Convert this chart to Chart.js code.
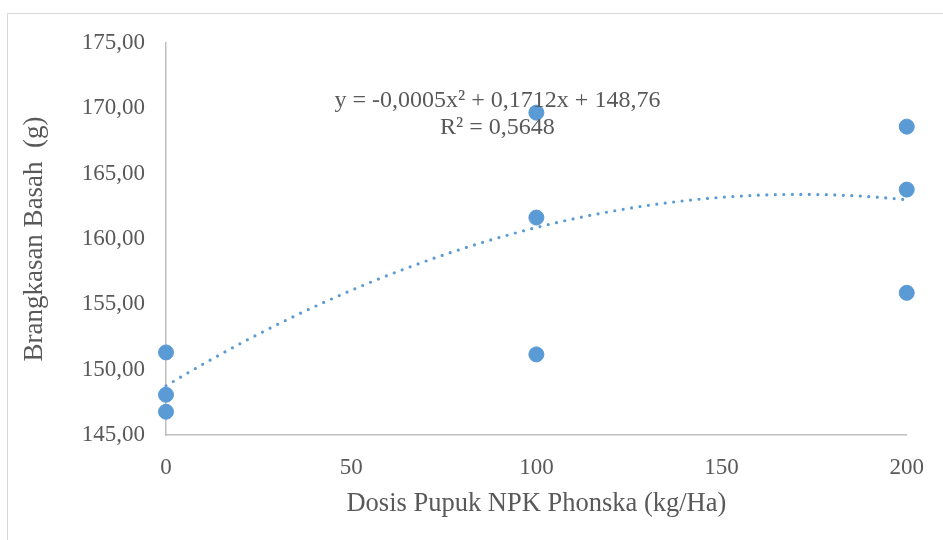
<!DOCTYPE html>
<html>
<head>
<meta charset="utf-8">
<script src="https://cdn.jsdelivr.net/npm/chart.js@4/dist/chart.umd.min.js"></script>
<style>
  html, body { margin: 0; padding: 0; background: #fff; }
  #wrap { width: 943px; height: 540px; position: relative; }
</style>
</head>
<body>
<div id="wrap"><canvas id="chart" width="943" height="540"></canvas></div>
<script>
// data
const dosis = [0, 0, 0, 100, 100, 100, 200, 200, 200]
const brangkasan = [151.32, 148.08, 146.78, 169.67, 161.64, 151.17, 168.6, 163.78, 155.88]
// polynomial trendline (order 2) as shown on the chart
const trendCoef = [148.76, 0.1712, -0.0005]
const trendLabel = ['y = -0,0005x² + 0,1712x + 148,76', 'R² = 0,5648']
const yTicks = [145, 150, 155, 160, 165, 170, 175]
const xTicks = [0, 50, 100, 150, 200]

const blue = '#5B9BD5'
const textGrey = '#595959'
const axisGrey = '#BFBFBF'
const fontFam = '"Liberation Serif", "Times New Roman", serif'

let points = []
for (let i = 0; i < dosis.length; i++) {
    points.push({x: dosis[i], y: brangkasan[i]})
}
let trend = []
for (let x = 0; x <= 200; x += 2) {
    trend.push({x: x, y: trendCoef[0] + trendCoef[1] * x + trendCoef[2] * x * x})
}

const comma = v => v.toFixed(2).replace('.', ',')

const extras = {
    id: 'extras',
    beforeDraw(c) {
        const ctx = c.ctx
        ctx.save()
        ctx.fillStyle = '#fff'
        ctx.fillRect(0, 0, c.width, c.height)
        ctx.strokeStyle = '#D9D9D9'
        ctx.lineWidth = 1
        ctx.strokeRect(7.5, 13.5, 1000, 600)
        ctx.restore()
    },
    afterDatasetsDraw(c) {
        const ctx = c.ctx
        const xs = c.scales.x, ys = c.scales.y
        ctx.save()
        ctx.fillStyle = textGrey
        ctx.font = '24px ' + fontFam
        ctx.textAlign = 'center'
        ctx.textBaseline = 'middle'
        const cx = xs.getPixelForValue(89.5)
        ctx.fillText(trendLabel[0], cx, ys.getPixelForValue(170.55))
        ctx.fillText(trendLabel[1], cx, ys.getPixelForValue(168.5))
        ctx.restore()
    }
}

const ctx = document.getElementById('chart').getContext('2d')
const chart = new Chart(ctx, {
    type: 'scatter',
    data: {
        datasets: [
            {
                label: 'trend',
                type: 'line',
                data: trend,
                borderColor: blue,
                borderWidth: 3.2,
                borderDash: [0, 8.5],
                borderCapStyle: 'round',
                pointRadius: 0,
                fill: false,
                tension: 0,
                clip: false,
                order: 2
            },
            {
                label: 'Brangkasan Basah',
                data: points,
                backgroundColor: blue,
                borderColor: blue,
                pointRadius: 7.5,
                pointHoverRadius: 7.5,
                clip: false,
                order: 1
            }
        ]
    },
    options: {
        responsive: false,
        animation: false,
        layout: { padding: { left: 8, top: 43, right: 35, bottom: 10 } },
        plugins: { legend: { display: false }, tooltip: { enabled: false } },
        scales: {
            x: {
                type: 'linear',
                min: 0, max: 200,
                afterBuildTicks: s => { s.ticks = xTicks.map(v => ({value: v})) },
                afterFit: s => { s.height = 95 },
                grid: { display: false, drawTicks: false },
                border: { display: true, color: axisGrey, width: 1.5 },
                ticks: { color: textGrey, padding: 19, font: { family: fontFam, size: 23 } },
                title: {
                    display: true,
                    text: 'Dosis Pupuk NPK Phonska (kg/Ha)',
                    color: textGrey,
                    font: { family: fontFam, size: 26.5 },
                    padding: { top: 0, bottom: 10 }
                }
            },
            y: {
                min: 145, max: 175,
                afterBuildTicks: s => { s.ticks = yTicks.map(v => ({value: v})) },
                afterFit: s => { s.width = 158 },
                grid: { display: false, drawTicks: false },
                border: { display: true, color: axisGrey, width: 1.5 },
                ticks: { color: textGrey, padding: 21, font: { family: fontFam, size: 23 }, callback: v => comma(v) },
                title: {
                    display: true,
                    text: 'Brangkasan Basah  (g)',
                    color: textGrey,
                    font: { family: fontFam, size: 27 },
                    padding: { top: 11, bottom: 0 }
                }
            }
        }
    },
    plugins: [extras]
})
</script>
</body>
</html>
